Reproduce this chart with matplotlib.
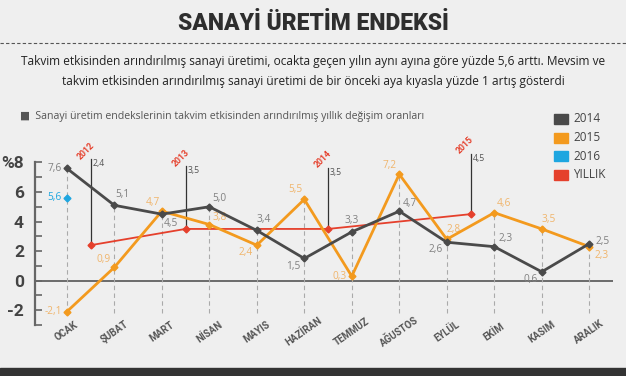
import matplotlib
matplotlib.use("Agg")
from matplotlib import pyplot as plt
from matplotlib.patches import Rectangle
from matplotlib.lines import Line2D

months = ["OCAK", "ŞUBAT", "MART", "NİSAN", "MAYIS", "HAZİRAN",
          "TEMMUZ", "AĞUSTOS", "EYLÜL", "EKİM", "KASIM", "ARALIK"]
y2014 = [7.6, 5.1, 4.5, 5.0, 3.4, 1.5, 3.3, 4.7, 2.6, 2.3, 0.6, 2.5]
y2015 = [-2.1, 0.9, 4.7, 3.8, 2.4, 5.5, 0.3, 7.2, 2.8, 4.6, 3.5, 2.3]
y2016 = [5.6]
yillik_years = ["2012", "2013", "2014", "2015"]
yillik_vals = [2.4, 3.5, 3.5, 4.5]
yillik_pos = [0.5, 2.5, 5.5, 8.5]

C14 = "#4a4a4a"
C15 = "#f39a1e"
C16 = "#1ea6e0"
CY = "#e5402c"
BG = "#efefef"

fig = plt.figure(figsize=(6.26, 3.76), dpi=100, facecolor=BG)
FONT = ["Open Sans", "DejaVu Sans"]

def fmt(v):
    return f"{v:.1f}".replace(".", ",")

# header
fig.text(0.5, 1 - 24 / 376, "SANAYİ ÜRETİM ENDEKSİ", ha="center", va="center",
         fontsize=16.5, fontweight="heavy", color="#2e2e2e", family="Roboto")
fig.add_artist(Line2D([0, 1], [1 - 43 / 376] * 2, color="#555555", lw=0.8,
                      ls=(0, (3, 2))))
fig.text(0.5, 1 - 61 / 376, "Takvim etkisinden arındırılmış sanayi üretimi, ocakta geçen yılın aynı ayına göre yüzde 5,6 arttı. Mevsim ve",
         ha="center", va="center", fontsize=8.6, color="#222222", family=FONT)
fig.text(0.5, 1 - 82 / 376, "takvim etkisinden arındırılmış sanayi üretimi de bir önceki aya kıyasla yüzde 1 artış gösterdi",
         ha="center", va="center", fontsize=8.6, color="#222222", family=FONT)
fig.text(20 / 626, 1 - 117 / 376, "■  Sanayi üretim endekslerinin takvim etkisinden arındırılmış yıllık değişim oranları",
         ha="left", va="center", fontsize=7.6, color="#555555", family=FONT)

# legend
for i, (lab, col) in enumerate([("2014", C14), ("2015", C15), ("2016", C16), ("YILLIK", CY)]):
    yc = 1 - (119 + i * 18.5) / 376
    fig.add_artist(Rectangle((554 / 626, yc - 5 / 376), 14 / 626, 10 / 376,
                             color=col, transform=fig.transFigure))
    fig.text(573 / 626, yc, lab, ha="left", va="center", fontsize=8.5,
             color="#444444", family=FONT)

# bottom strip
fig.add_artist(Rectangle((0, 0), 1, 8 / 376, color="#333333",
                         transform=fig.transFigure))

ax = fig.add_axes([35 / 626, 51 / 376, 578 / 626, 167 / 376])
ax.set_facecolor("none")
x = list(range(len(months)))
ax.set_xlim(-0.67, 11.5)
ax.set_ylim(-3.0, 8.3)

for s in ["top", "right", "bottom"]:
    ax.spines[s].set_visible(False)
ax.spines["left"].set_color("#666666")
ax.spines["left"].set_linewidth(1.6)
ax.spines["left"].set_bounds(-3, 8)
ax.set_yticks(range(-3, 9))
ax.set_yticklabels(["" if v % 2 else ("%8" if v == 8 else str(v)) for v in range(-3, 9)],
                   fontsize=12.5, fontweight="bold", color="#444444", family="Roboto")
ax.tick_params(axis="y", direction="in", length=5, width=1.2, color="#666666", pad=8)
ax.set_xticks([])

ax.axhline(0, color="#555555", lw=1.2, zorder=1)

for xi, a, b in zip(x, y2014, y2015):
    ax.plot([xi, xi], [-2.2, max(a, b)], color="#aaaaaa", lw=0.8,
            ls=(0, (4, 3)), zorder=1)

# yillik
ax.plot(yillik_pos, yillik_vals, color=CY, lw=1.3, marker="D", ms=3.5, zorder=3)
stem_tops = [8.2, 7.75, 7.65, 8.6]
for xp, v, yr, top in zip(yillik_pos, yillik_vals, yillik_years, stem_tops):
    ax.plot([xp, xp], [v, top], color="#333333", lw=0.9, zorder=2, clip_on=False)
    ax.annotate(fmt(v), (xp, top), xytext=(2, 0), textcoords="offset pixels",
                ha="left", va="top", fontsize=6.3, color="#555555", family=FONT,
                annotation_clip=False)
    ax.annotate(yr, (xp, top), xytext=(-5, 8), textcoords="offset pixels",
                ha="center", va="center", rotation=45, fontsize=6.3,
                fontweight="bold", color=CY, family="Roboto", annotation_clip=False)

ax.plot(x, y2015, color=C15, lw=2, marker="D", ms=3.5, zorder=4)
ax.plot(x, y2014, color=C14, lw=2, marker="D", ms=3.5, zorder=5)
ax.plot([0], y2016, color=C16, lw=0, marker="D", ms=3.5, zorder=5)

off14 = [(-5, 0, "right", "center"), (1, 5, "left", "bottom"), (2, -4, "left", "top"),
         (3, 3, "left", "bottom"), (0, 5, "left", "bottom"), (-4, -3, "right", "top"),
         (0, 6, "center", "bottom"), (3, 2, "left", "bottom"), (-4, -2, "right", "top"),
         (4, 3, "left", "bottom"), (-4, -2, "right", "top"), (6, 2, "left", "center")]
off15 = [(-5, 0, "right", "center"), (-4, 2, "right", "bottom"), (-2, 3, "right", "bottom"),
         (3, 2, "left", "bottom"), (-4, -2, "right", "top"), (-2, 4, "right", "bottom"),
         (-5, 0, "right", "center"), (-3, 3, "right", "bottom"), (0, 4, "left", "bottom"),
         (2, 4, "left", "bottom"), (0, 4, "left", "bottom"), (5, -3, "left", "top")]
for xi, v, (dx, dy, ha, va) in zip(x, y2014, off14):
    ax.annotate(fmt(v), (xi, v), xytext=(dx, dy), textcoords="offset pixels",
                ha=ha, va=va, fontsize=7.3, color="#808080", family=FONT)
for xi, v, (dx, dy, ha, va) in zip(x, y2015, off15):
    ax.annotate(fmt(v), (xi, v), xytext=(dx, dy), textcoords="offset pixels",
                ha=ha, va=va, fontsize=7.3, color="#f0b56c", family=FONT)
ax.annotate(fmt(y2016[0]), (0, y2016[0]), xytext=(-5, 0), textcoords="offset pixels",
            ha="right", va="center", fontsize=7.3, color=C16, family=FONT)

for xi, m in zip(x, months):
    ax.text(xi, -3.45, m, ha="center", va="center", rotation=35, fontsize=7,
            fontweight="bold", color="#555555", family="Roboto")

fig.savefig("out.png", dpi=100, facecolor=BG)
